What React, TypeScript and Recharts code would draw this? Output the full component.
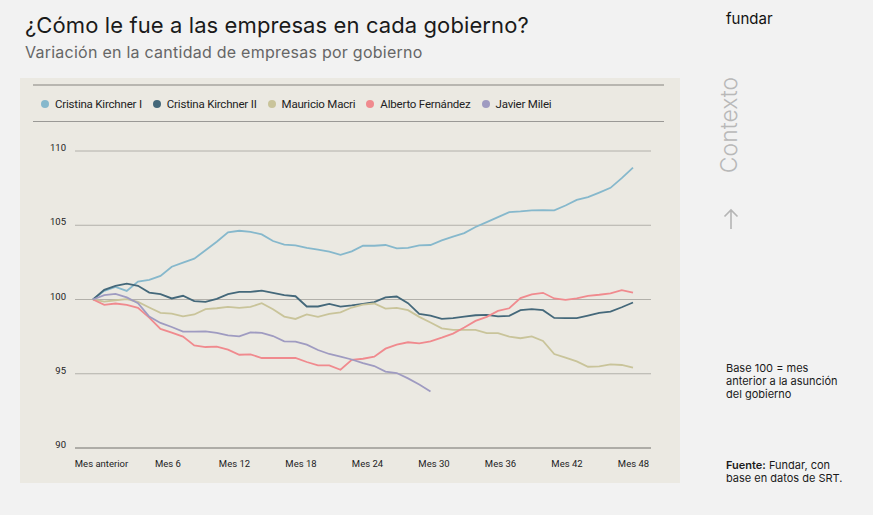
import { CartesianGrid, Line, LineChart, XAxis, YAxis } from "recharts";

// valores por mes (base 100 = mes anterior a la asunción)
const months = Array.from({ length: 49 }, (_, i) => i);
const xTicks = [0, 6, 12, 18, 24, 30, 36, 42, 48];
const yTicks = [90, 95, 100, 105, 110];

const kirchner1 = [
  100, 100.58, 100.85, 100.58, 101.21, 101.32, 101.59, 102.21, 102.48, 102.75,
  103.31, 103.89, 104.52, 104.63, 104.56, 104.38, 103.94, 103.69, 103.65, 103.47,
  103.36, 103.22, 103.01, 103.24, 103.62, 103.62, 103.67, 103.44, 103.47, 103.65,
  103.67, 103.98, 104.23, 104.47, 104.88, 105.21, 105.55, 105.88, 105.93, 106.0,
  106.02, 106.0, 106.33, 106.71, 106.89, 107.2, 107.52, 108.17, 108.88,
];
const kirchner2 = [
  100, 100.65, 100.92, 101.07, 100.92, 100.47, 100.36, 100.07, 100.25, 99.89,
  99.84, 100.04, 100.36, 100.51, 100.51, 100.6, 100.45, 100.29, 100.22, 99.53,
  99.53, 99.71, 99.52, 99.6, 99.71, 99.82, 100.14, 100.2, 99.75, 99.03,
  98.92, 98.69, 98.74, 98.85, 98.94, 98.96, 98.87, 98.9, 99.28, 99.35,
  99.28, 98.76, 98.74, 98.74, 98.92, 99.1, 99.19, 99.48, 99.8,
];
const macri = [
  100, 99.86, 99.95, 100.02, 99.84, 99.46, 99.1, 99.05, 98.87, 98.99,
  99.35, 99.41, 99.5, 99.44, 99.5, 99.75, 99.35, 98.85, 98.69, 99.0,
  98.83, 99.03, 99.13, 99.46, 99.66, 99.73, 99.39, 99.44, 99.28, 98.83,
  98.45, 98.06, 97.95, 97.95, 97.95, 97.73, 97.73, 97.5, 97.39, 97.52,
  97.21, 96.33, 96.08, 95.83, 95.47, 95.5, 95.63, 95.59, 95.41,
];
const fernandez = [
  100, 99.64, 99.73, 99.64, 99.44, 98.78, 98.02, 97.77, 97.5, 96.91,
  96.8, 96.82, 96.62, 96.28, 96.31, 96.06, 96.06, 96.06, 96.06, 95.79,
  95.56, 95.56, 95.27, 95.93, 96.01, 96.15, 96.69, 96.96, 97.12, 97.05,
  97.18, 97.43, 97.7, 98.11, 98.56, 98.83, 99.23, 99.41, 100.09, 100.34,
  100.45, 100.07, 99.98, 100.07, 100.25, 100.32, 100.41, 100.63, 100.47,
];
const milei = [
  100, 100.29, 100.38, 100.14, 99.75, 98.85, 98.42, 98.15, 97.84, 97.84,
  97.86, 97.75, 97.59, 97.52, 97.79, 97.75, 97.54, 97.18, 97.16, 96.96,
  96.6, 96.33, 96.16, 95.96, 95.72, 95.52, 95.14, 95.05, 94.69, 94.28,
  93.81,
];

const series = [
  { key: "ck1", name: "Cristina Kirchner I", color: "#86b8cc", values: kirchner1 },
  { key: "ck2", name: "Cristina Kirchner II", color: "#44687a", values: kirchner2 },
  { key: "macri", name: "Mauricio Macri", color: "#c9c49a", values: macri },
  { key: "af", name: "Alberto Fernández", color: "#f08a8e", values: fernandez },
  { key: "milei", name: "Javier Milei", color: "#9f9bc1", values: milei },
];

const data = months.map((m) => {
  const row: Record<string, number | null> = { mes: m };
  series.forEach((s) => {
    row[s.key] = s.values[m] ?? null;
  });
  return row;
});

const tickFont = "Roboto, 'Noto Sans', sans-serif";

function XTick({ x, y, payload }: any) {
  const m = payload.value as number;
  const label = m === 0 ? "Mes anterior" : `Mes ${m}`;
  return (
    <text x={x + 8.5 - m / 6} y={y + 19} textAnchor="middle" fontSize={9.5} fontFamily={tickFont} fill="#222">
      {label}
    </text>
  );
}

function YTick({ x, y, payload }: any) {
  return (
    <text x={x} y={y} textAnchor="end" fontSize={9.5} fontFamily={tickFont} fill="#222">
      {payload.value}
    </text>
  );
}

export default function App() {
  return (
    <div
      style={{
        position: "absolute",
        left: 0,
        top: 0,
        width: 873,
        height: 515,
        background: "#f2f2f2",
        fontFamily: "Inter, sans-serif",
        overflow: "hidden",
      }}
    >
      <div style={{ position: "absolute", left: 25, top: 14, fontSize: 22, lineHeight: "22px", letterSpacing: 0.1, color: "#1a1a1a", whiteSpace: "nowrap" }}>
        ¿Cómo le fue a las empresas en cada gobierno?
      </div>
      <div style={{ position: "absolute", left: 25, top: 43.5, fontSize: 16, lineHeight: "16px", letterSpacing: 0.25, color: "#666", whiteSpace: "nowrap" }}>
        Variación en la cantidad de empresas por gobierno
      </div>

      <div style={{ position: "absolute", left: 20, top: 78, width: 660, height: 405, background: "#ebe9e2" }}>
        <div style={{ position: "absolute", left: 13, top: 6, width: 631, height: 2, background: "#b8b6b0" }} />
        <div
          style={{
            position: "absolute",
            left: 21,
            top: 19,
            display: "flex",
            alignItems: "center",
            fontFamily: tickFont,
            fontSize: 11.5,
            lineHeight: "14px",
            letterSpacing: -0.2,
            color: "#222",
            whiteSpace: "nowrap",
          }}
        >
          {series.map((s) => (
            <div key={s.key} style={{ display: "flex", alignItems: "center", marginRight: 11 }}>
              <span style={{ width: 8, height: 8, borderRadius: 4, background: s.color, marginRight: 6 }} />
              {s.name}
            </div>
          ))}
        </div>
        <div style={{ position: "absolute", left: 13, top: 43, width: 631, height: 1, background: "#9a9996" }} />

        <div style={{ position: "absolute", left: 0, top: 0 }}>
          <LineChart width={660} height={405} data={data} margin={{ top: 73, right: 29, bottom: 5, left: 15 }}>
            <CartesianGrid vertical={false} stroke="#b2b0aa" />
            <XAxis
              dataKey="mes"
              type="number"
              domain={[0, 48]}
              ticks={xTicks}
              padding={{ left: 18, right: 18 }}
              height={30}
              tickSize={0}
              tickMargin={0}
              axisLine={{ stroke: "#8d8c88" }}
              tick={<XTick />}
              interval={0}
            />
            <YAxis
              type="number"
              domain={[90, 110]}
              ticks={yTicks}
              width={40}
              tickSize={0}
              tickMargin={9}
              axisLine={false}
              tick={<YTick />}
              interval={0}
            />
            {series.map((s) => (
              <Line
                key={s.key}
                dataKey={s.key}
                name={s.name}
                type="linear"
                stroke={s.color}
                strokeWidth={1.8}
                dot={false}
                activeDot={false}
                connectNulls={false}
                isAnimationActive={false}
              />
            ))}
          </LineChart>
        </div>
      </div>

      <div style={{ position: "absolute", left: 726, top: 11, fontSize: 15, lineHeight: "15px", color: "#111" }}>fundar</div>
      <div
        style={{
          position: "absolute",
          left: 729,
          top: 125,
          transform: "translate(-50%, -50%) rotate(-90deg)",
          fontSize: 23,
          lineHeight: "23px",
          fontWeight: 300,
          color: "#b8b8b8",
          whiteSpace: "nowrap",
        }}
      >
        Contexto
      </div>
      <svg style={{ position: "absolute", left: 721, top: 208 }} width={20} height={22}>
        <path d="M10 2 L10 21 M3.5 8.5 L10 2 L16.5 8.5" fill="none" stroke="#b5b5b5" strokeWidth={1.6} />
      </svg>

      <div style={{ position: "absolute", left: 726, top: 362, fontSize: 11, lineHeight: "13px", color: "#1a1a1a" }}>
        Base 100 = mes
        <br />
        anterior a la asunción
        <br />
        del gobierno
      </div>
      <div style={{ position: "absolute", left: 726, top: 458.5, fontSize: 11, lineHeight: "13.5px", color: "#1a1a1a" }}>
        <b style={{ fontWeight: 600 }}>Fuente:</b> Fundar, con
        <br />
        base en datos de SRT.
      </div>
    </div>
  );
}
